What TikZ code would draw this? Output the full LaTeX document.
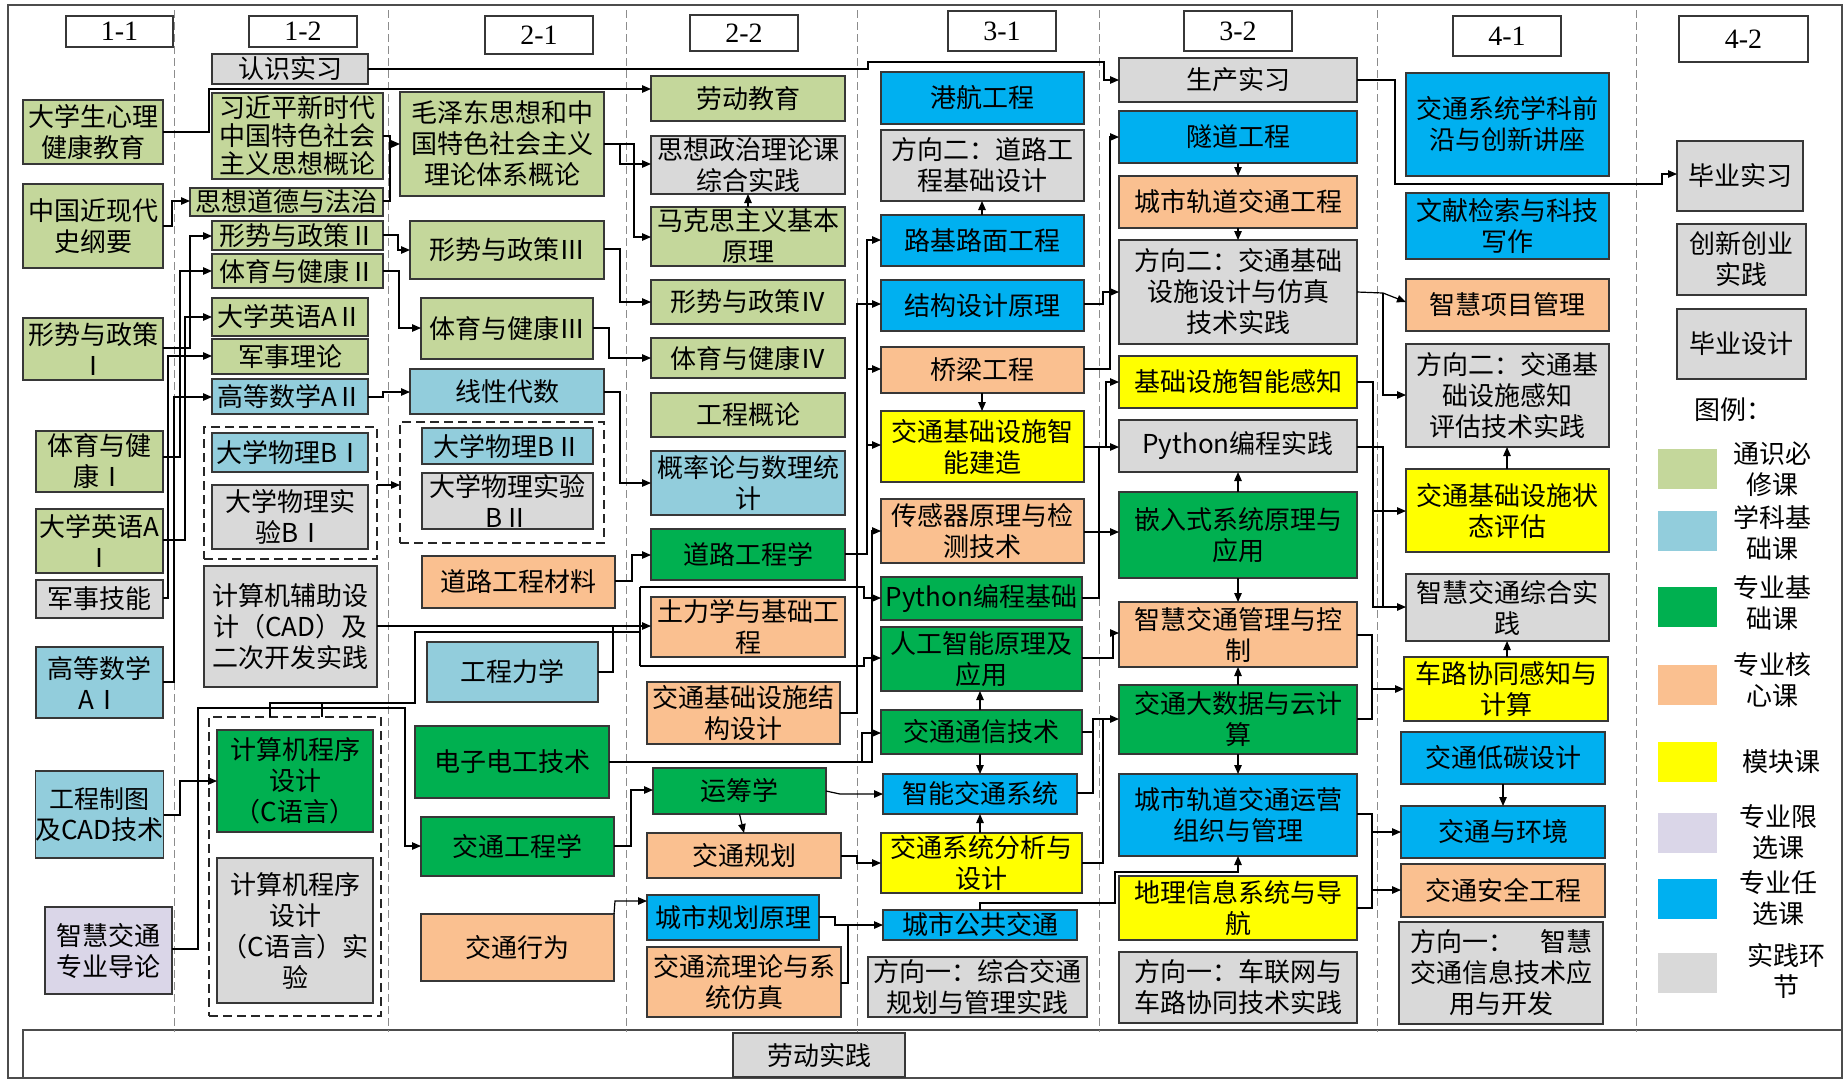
\documentclass[tikz,border=0pt]{standalone}
\usepackage{fontspec}
\setmainfont{Noto Sans CJK SC}
\newfontfamily\hdr{Liberation Serif}
\usetikzlibrary{arrows.meta}
\definecolor{cg}{RGB}{196,215,155}
\definecolor{cb}{RGB}{146,205,220}
\definecolor{cz}{RGB}{0,176,80}
\definecolor{co}{RGB}{250,192,144}
\definecolor{cy}{RGB}{255,255,0}
\definecolor{cl}{RGB}{218,214,232}
\definecolor{cs}{RGB}{0,176,240}
\definecolor{cp}{RGB}{217,217,217}
\definecolor{bd}{RGB}{55,55,55}
\newcommand\Bx[7]{\node[bx,fill=#2,minimum width={(#5)-(#3)},minimum height={(#6)-(#4)}] (#1) at ({((#3)+(#5))/2},{((#4)+(#6))/2}) {#7};}
\newcommand\Hd[6]{\node[hd,minimum width={(#4)-(#2)},minimum height={(#5)-(#3)}] (#1) at ({((#2)+(#4))/2},{((#3)+(#5))/2}) {#6};}
\newcommand\Gp[5]{\node[grp,minimum width={(#4)-(#2)},minimum height={(#5)-(#3)}] (#1) at ({((#2)+(#4))/2},{((#3)+(#5))/2}) {};}
\begin{document}
\begin{tikzpicture}[x=1pt,y=-1pt,
 bx/.style={draw=bd,line width=1.4pt,inner sep=0pt,outer sep=0pt,align=center,font=\fontsize{26}{31}\selectfont},
 hd/.style={draw=bd,line width=1.4pt,fill=white,inner sep=0pt,outer sep=0pt,font=\hdr\fontsize{28}{30}\selectfont},
 grp/.style={draw=black!85,line width=1.6pt,dash pattern=on 9pt off 5pt,inner sep=0pt,outer sep=0pt},
 ar/.style={draw=black,line width=1.2pt,-{Triangle[length=9pt,width=7.5pt]}},
 ln/.style={draw=black,line width=1.2pt},
 col/.style={draw=black!45,line width=1pt,dash pattern=on 8pt off 4pt},
 sw/.style={inner sep=0pt,minimum width=59pt,minimum height=40pt},
 lg/.style={align=center,font=\fontsize{26}{31}\selectfont}]
\useasboundingbox (0,0) rectangle (1847,1080);
\fill[white] (0,0) rectangle (1847,1080);
% frame
\draw[draw=black!70,line width=1.5pt] (8,5) rectangle (1842,1078);
\draw[draw=black!70,line width=1.5pt] (23,1078) -- (23,1030) -- (1842,1030);
% column separators
\foreach \cx in {174,388,626,857,1099,1377,1636}{\draw[col] (\cx,10) -- (\cx,1032);}
% headers
\Hd{h11}{66}{16}{173}{47}{1-1}
\Hd{h12}{249}{16}{357}{47}{1-2}
\Hd{h21}{485}{16}{593}{54}{2-1}
\Hd{h22}{690}{15}{798}{51}{2-2}
\Hd{h31}{948}{11}{1056}{51}{3-1}
\Hd{h32}{1184}{11}{1292}{51}{3-2}
\Hd{h41}{1453}{16}{1561}{56}{4-1}
\Hd{h42}{1679}{16}{1808}{62}{4-2}
% column 1-1
\Bx{a1}{cg}{23}{100}{163}{164}{大学生心理\\健康教育}
\Bx{a2}{cg}{23}{184}{163}{268}{中国近现代\\史纲要}
\Bx{a3}{cg}{23}{318}{163}{380}{形势与政策\\Ⅰ}
\Bx{a4}{cg}{36}{431}{163}{492}{体育与健\\康Ⅰ}
\Bx{a5}{cg}{36}{509}{163}{573}{大学英语A\\Ⅰ}
\Bx{a6}{cp}{36}{580}{163}{618}{军事技能}
\Bx{a7}{cb}{36}{647}{163}{718}{高等数学\\AⅠ}
\Bx{a8}{cb}{36}{771}{163}{858}{\fontsize{25}{31}\selectfont 工程制图\\及CAD技术}
\Bx{a9}{cl}{45}{907}{172}{994}{智慧交通\\专业导论}
% column 1-2
\Bx{b1}{cp}{212}{54}{368}{84}{认识实习}
\Bx{b2}{cg}{212}{93}{383}{179}{习近平新时代\\[-3pt]中国特色社会\\[-3pt]主义思想概论}
\Bx{b3}{cg}{190}{188}{383}{216}{思想道德与法治}
\Bx{b4}{cg}{212}{221}{383}{250}{形势与政策Ⅱ}
\Bx{b5}{cg}{212}{254}{383}{288}{体育与健康Ⅱ}
\Bx{b6}{cg}{212}{298}{368}{336}{大学英语AⅡ}
\Bx{b7}{cg}{212}{339}{368}{374}{军事理论}
\Bx{b8}{cb}{212}{379}{368}{414}{高等数学AⅡ}
\Gp{g1}{204}{427}{377}{559}
\Bx{b9}{cb}{212}{433}{368}{472}{大学物理BⅠ}
\Bx{b10}{cp}{212}{485}{368}{549}{大学物理实\\验BⅠ}
\Bx{b11}{cp}{204}{566}{377}{687}{计算机辅助设\\计（CAD）及\\二次开发实践}
\Gp{g2}{209}{717}{381}{1016}
\Bx{b12}{cz}{217}{730}{373}{832}{计算机程序\\设计\\（C语言）}
\Bx{b13}{cp}{217}{858}{373}{1003}{计算机程序\\设计\\（C语言）实\\验}
% column 2-1
\Bx{c1}{cg}{400}{92}{604}{196}{毛泽东思想和中\\国特色社会主义\\理论体系概论}
\Bx{c2}{cg}{410}{221}{604}{279}{形势与政策Ⅲ}
\Bx{c3}{cg}{421}{298}{593}{359}{体育与健康Ⅲ}
\Bx{c4}{cb}{410}{369}{604}{414}{线性代数}
\Gp{g3}{400}{422}{604}{543}
\Bx{c5}{cb}{422}{428}{593}{464}{大学物理BⅡ}
\Bx{c6}{cp}{422}{473}{593}{529}{大学物理实验\\BⅡ}
\Bx{c7}{co}{422}{556}{615}{608}{道路工程材料}
\Bx{c8}{cb}{427}{642}{598}{702}{工程力学}
\Bx{c9}{cz}{415}{726}{609}{798}{电子电工技术}
\Bx{c10}{cz}{421}{817}{614}{876}{交通工程学}
\Bx{c11}{co}{421}{914}{614}{981}{交通行为}
% column 2-2
\Bx{d1}{cg}{651}{76}{845}{121}{劳动教育}
\Bx{d2}{cp}{651}{136}{845}{194}{思想政治理论课\\综合实践}
\Bx{d3}{cg}{651}{207}{845}{266}{马克思主义基本\\原理}
\Bx{d4}{cg}{651}{280}{845}{324}{形势与政策Ⅳ}
\Bx{d5}{cg}{651}{338}{845}{378}{体育与健康Ⅳ}
\Bx{d6}{cg}{651}{393}{845}{437}{工程概论}
\Bx{d7}{cb}{651}{451}{845}{515}{概率论与数理统\\计}
\Bx{d8}{cz}{651}{529}{845}{580}{道路工程学}
\Bx{d9}{co}{651}{597}{845}{657}{土力学与基础工\\程}
\Bx{d10}{co}{647}{682}{840}{744}{交通基础设施结\\构设计}
\Bx{d11}{cz}{653}{768}{826}{814}{运筹学}
\Bx{d12}{co}{647}{833}{841}{878}{交通规划}
\Bx{d13}{cs}{647}{895}{819}{940}{城市规划原理}
\Bx{d14}{co}{647}{947}{841}{1017}{交通流理论与系\\统仿真}
% column 3-1
\Bx{e1}{cs}{881}{72}{1084}{124}{港航工程}
\Bx{e2}{cp}{881}{130}{1084}{201}{方向二：道路工\\程基础设计}
\Bx{e3}{cs}{881}{215}{1084}{266}{路基路面工程}
\Bx{e4}{cs}{881}{280}{1084}{331}{结构设计原理}
\Bx{e5}{co}{881}{347}{1084}{393}{桥梁工程}
\Bx{e6}{cy}{881}{411}{1084}{482}{交通基础设施智\\能建造}
\Bx{e7}{co}{881}{499}{1084}{563}{传感器原理与检\\测技术}
\Bx{e8}{cz}{881}{577}{1082}{620}{Python编程基础}
\Bx{e9}{cz}{881}{627}{1082}{691}{人工智能原理及\\应用}
\Bx{e10}{cz}{881}{710}{1082}{754}{交通通信技术}
\Bx{e11}{cs}{883}{774}{1077}{814}{智能交通系统}
\Bx{e12}{cy}{881}{833}{1082}{893}{交通系统分析与\\设计}
\Bx{e13}{cs}{883}{910}{1077}{940}{城市公共交通}
\Bx{e14}{cp}{868}{957}{1087}{1017}{方向一：综合交通\\规划与管理实践}
% column 3-2
\Bx{f1}{cp}{1119}{58}{1357}{102}{生产实习}
\Bx{f2}{cs}{1119}{111}{1357}{163}{隧道工程}
\Bx{f3}{co}{1119}{176}{1357}{228}{城市轨道交通工程}
\Bx{f4}{cp}{1119}{240}{1357}{344}{方向二：交通基础\\设施设计与仿真\\技术实践}
\Bx{f5}{cy}{1119}{356}{1357}{408}{基础设施智能感知}
\Bx{f6}{cp}{1119}{420}{1357}{472}{Python编程实践}
\Bx{f7}{cz}{1119}{492}{1357}{578}{嵌入式系统原理与\\应用}
\Bx{f8}{co}{1119}{602}{1357}{667}{智慧交通管理与控\\制}
\Bx{f9}{cz}{1119}{685}{1357}{754}{交通大数据与云计\\算}
\Bx{f10}{cs}{1119}{774}{1357}{856}{城市轨道交通运营\\组织与管理}
\Bx{f11}{cy}{1119}{876}{1357}{940}{地理信息系统与导\\航}
\Bx{f12}{cp}{1119}{952}{1357}{1023}{方向一：车联网与\\车路协同技术实践}
% column 4-1
\Bx{q1}{cs}{1406}{73}{1609}{176}{交通系统学科前\\沿与创新讲座}
\Bx{q2}{cs}{1406}{193}{1609}{259}{文献检索与科技\\写作}
\Bx{q3}{co}{1406}{279}{1609}{331}{智慧项目管理}
\Bx{q4}{cp}{1406}{344}{1609}{447}{方向二：交通基\\础设施感知\\评估技术实践}
\Bx{q5}{cy}{1406}{469}{1609}{552}{交通基础设施状\\态评估}
\Bx{q6}{cp}{1406}{574}{1609}{641}{智慧交通综合实\\践}
\Bx{q7}{cy}{1404}{657}{1608}{721}{车路协同感知与\\计算}
\Bx{q8}{cs}{1401}{732}{1605}{784}{交通低碳设计}
\Bx{q9}{cs}{1401}{806}{1605}{858}{交通与环境}
\Bx{q10}{co}{1401}{864}{1605}{917}{交通安全工程}
\Bx{q11}{cp}{1399}{922}{1603}{1024}{方向一：\quad 智慧\\交通信息技术应\\用与开发}
% column 4-2
\Bx{k1}{cp}{1677}{141}{1803}{211}{毕业实习}
\Bx{k2}{cp}{1677}{224}{1806}{295}{创新创业\\实践}
\Bx{k3}{cp}{1677}{309}{1806}{379}{毕业设计}
% legend
\node[lg] (lgt) at (1733,410) {图例：};
\node[sw,fill=cg] (s1) at (1687.5,469) {};
\node[sw,fill=cb] (s2) at (1687.5,531) {};
\node[sw,fill=cz] (s3) at (1687.5,607) {};
\node[sw,fill=co] (s4) at (1687.5,685) {};
\node[sw,fill=cy] (s5) at (1687.5,762) {};
\node[sw,fill=cl] (s6) at (1687.5,833) {};
\node[sw,fill=cs] (s7) at (1687.5,899) {};
\node[sw,fill=cp] (s8) at (1687.5,973) {};
\node[lg] (l1) at (1772,469) {通识必\\修课};
\node[lg] (l2) at (1772,533) {学科基\\础课};
\node[lg] (l3) at (1772,603) {专业基\\础课};
\node[lg] (l4) at (1772,680) {专业核\\心课};
\node[lg] (l5) at (1781,762) {模块课};
\node[lg] (l6) at (1778,832) {专业限\\选课};
\node[lg] (l7) at (1778,898) {专业任\\选课};
\node[lg] (l8) at (1786,971) {实践环\\节};
% bottom band
\Bx{ld}{cp}{733}{1033}{905}{1077}{劳动实践}
% ---------- connectors ----------
\draw[ar] (a1.east |- 0,132) -- (209,132) -- (209,89) -- (d1.west |- 0,89);
\draw[ar] (b1.east) -- (868,69) -- (868,62) -- (1104,62) -- (1104,80) -- (f1.west |- 0,80);
\draw[ar] (f1.east) -- (1395,80) -- (1395,184) -- (1662,184) -- (1662,174) -- (k1.west |- 0,174);
\draw[ar] (a2.east |- 0,226) -- (172,226) -- (172,201) -- (b3.west |- 0,201);
\draw[ar] (b2.east |- 0,136) -- (390,136) -- (390,144) -- (c1.west |- 0,144);
\draw[ln] (b3.east |- 0,201) -- (390,201) -- (390,144);
\draw[ar] (b4.east |- 0,235) -- (398,235) -- (398,250) -- (c2.west |- 0,250);
\draw[ar] (b5.east |- 0,271) -- (399,271) -- (399,328) -- (c3.west |- 0,328);
\draw[ar] (a3.east |- 0,348) -- (190,348) -- (190,236) -- (b4.west |- 0,236);
\draw[ar] (a4.east |- 0,457) -- (180,457) -- (180,271) -- (b5.west |- 0,271);
\draw[ar] (a5.east |- 0,540) -- (185,540) -- (185,317) -- (b6.west |- 0,317);
\draw[ar] (a6.east |- 0,598) -- (168,598) -- (168,356) -- (b7.west |- 0,356);
\draw[ar] (a7.east |- 0,682) -- (174,682) -- (174,397) -- (b8.west |- 0,397);
\draw[ar] (b8.east |- 0,397) -- (383,397) -- (383,392) -- (c4.west |- 0,392);
\draw[ar] (g1.east |- 0,485) -- (g3.west |- 0,485);
\draw[ar] (a8.east |- 0,815) -- (180,815) -- (180,781) -- (b12.west |- 0,781);
\draw[ar] (a9.east |- 0,949) -- (198,949) -- (198,708) -- (405,708) -- (405,846) -- (c10.west |- 0,846);
\draw[ln] (g2.north -| 270,0) -- (270,703) -- (415,703) -- (415,632) -- (640,632);
\draw[ln] (g2.north -| 322,0) -- (322,703);
\draw[ln] (640,587) -- (640,666);
\draw[ar] (640,587) -- (864,587) -- (864,598) -- (e8.west |- 0,598);
\draw[ar] (640,666) -- (864,666) -- (864,658) -- (e9.west |- 0,658);
\draw[ar] (b11.east |- 0,626) -- (d9.west |- 0,626);
\draw[ln] (c8.east |- 0,672) -- (613,672) -- (613,626);
\draw[ar] (c1.east |- 0,144) -- (620,144) -- (620,164) -- (d2.west |- 0,164);
\draw[ar] (620,144) -- (634,144) -- (634,237) -- (d3.west |- 0,237);
\draw[ar] (d3.north) -- (d2.south);
\draw[ar] (c2.east |- 0,249) -- (620,249) -- (620,302) -- (d4.west |- 0,302);
\draw[ar] (c3.east |- 0,328) -- (609,328) -- (609,358) -- (d5.west |- 0,358);
\draw[ar] (c4.east |- 0,392) -- (620,392) -- (620,483) -- (d7.west |- 0,483);
\draw[ar] (c7.east |- 0,581) -- (632,581) -- (632,555) -- (d8.west |- 0,555);
\draw[ar] (c10.east |- 0,846) -- (631,846) -- (631,790) -- (d11.west |- 0,790);
\draw[ar] (c11.north east) -- (615,901) -- (d13.west |- 0,901);
\draw[ar] (c9.east |- 0,762) -- (862,762) -- (862,733) -- (e10.west |- 0,733);
\draw[ar] (862,762) -- (872,762) -- (872,531) -- (e7.west |- 0,531);
\draw[ar] (d8.east |- 0,554) -- (867,554) -- (867,240) -- (e3.west |- 0,240);
\draw[ar] (867,369) -- (e5.west |- 0,369);
\draw[ar] (867,445) -- (e6.west |- 0,445);
\draw[ar] (d10.east |- 0,713) -- (857,713) -- (857,304) -- (e4.west |- 0,304);
\draw[ar] (d11.east |- 0,791) -- (840,794) -- (e11.west |- 0,794);
\draw[ar] (d11.south) -- (d12.north);
\draw[ar] (d12.east |- 0,856) -- (857,856) -- (857,863) -- (e12.west |- 0,863);
\draw[ar] (d13.east |- 0,917) -- (835,917) -- (835,925) -- (e13.west |- 0,925);
\draw[ln] (d14.east |- 0,983) -- (848,983) -- (848,925);
\draw[ar] (e3.north -| 982,0) -- (e2.south -| 982,0);
\draw[ar] (e5.south -| 982,0) -- (e6.north -| 982,0);
\draw[ar] (e10.north -| 980,0) -- (e9.south -| 980,0);
\draw[ar] (e10.south -| 980,0) -- (e11.north -| 980,0);
\draw[ar] (e12.north -| 980,0) -- (e11.south -| 980,0);
\draw[ar] (e13.north -| 980,0) -- (980,903) -- (1115,903) -- (1115,872) -- (1238,872) -- (f10.south -| 1238,0);
\draw[ar] (e4.east |- 0,304) -- (1103,304) -- (1103,292) -- (f4.west |- 0,292);
\draw[ar] (e5.east |- 0,369) -- (1110,369) -- (1110,137) -- (f2.west |- 0,137);
\draw[ar] (e6.east |- 0,447) -- (1106,447) -- (1106,382) -- (f5.west |- 0,382);
\draw[ar] (1106,447) -- (f6.west |- 0,447);
\draw[ar] (e7.east |- 0,532) -- (f7.west |- 0,532);
\draw[ln] (e8.east |- 0,598) -- (1099,598) -- (1099,447);
\draw[ar] (e9.east |- 0,658) -- (1113,658) -- (1113,633) -- (f8.west |- 0,633);
\draw[ar] (e10.east |- 0,732) -- (1093,732) -- (1093,719) -- (f9.west |- 0,719);
\draw[ln] (e11.east |- 0,793) -- (1093,793) -- (1093,732);
\draw[ln] (e12.east |- 0,863) -- (1103,863) -- (1103,719);
\draw[ar] (f2.south -| 1238,0) -- (f3.north -| 1238,0);
\draw[ar] (f3.south -| 1238,0) -- (f4.north -| 1238,0);
\draw[ar] (f7.north -| 1238,0) -- (f6.south -| 1238,0);
\draw[ar] (f7.south -| 1238,0) -- (f8.north -| 1238,0);
\draw[ar] (f9.north -| 1238,0) -- (f8.south -| 1238,0);
\draw[ar] (f9.south -| 1238,0) -- (f10.north -| 1238,0);
\draw[ar] (f4.east |- 0,292) -- (1383,293) -- (q3.west |- 0,302);
\draw[ar] (1383,293) -- (1383,395) -- (q4.west |- 0,395);
\draw[ar] (f5.east |- 0,382) -- (1373,382) -- (1373,511) -- (q5.west |- 0,511);
\draw[ar] (1373,511) -- (1373,607) -- (q6.west |- 0,607);
\draw[ln] (f6.east |- 0,447) -- (1383,447) -- (1383,607);
\draw[ar] (f8.east |- 0,635) -- (1372,635) -- (1372,689) -- (q7.west |- 0,689);
\draw[ln] (f9.east |- 0,719) -- (1372,719) -- (1372,689);
\draw[ar] (q7.north -| 1507,0) -- (q6.south -| 1507,0);
\draw[ar] (q5.north -| 1507,0) -- (q4.south -| 1507,0);
\draw[ar] (q8.south -| 1503,0) -- (q9.north -| 1503,0);
\draw[ar] (f10.east |- 0,814) -- (1372,814) -- (1372,832) -- (q9.west |- 0,832);
\draw[ar] (1372,832) -- (1372,890) -- (q10.west |- 0,890);
\draw[ln] (f11.east |- 0,908) -- (1372,908) -- (1372,890);
\end{tikzpicture}
\end{document}
